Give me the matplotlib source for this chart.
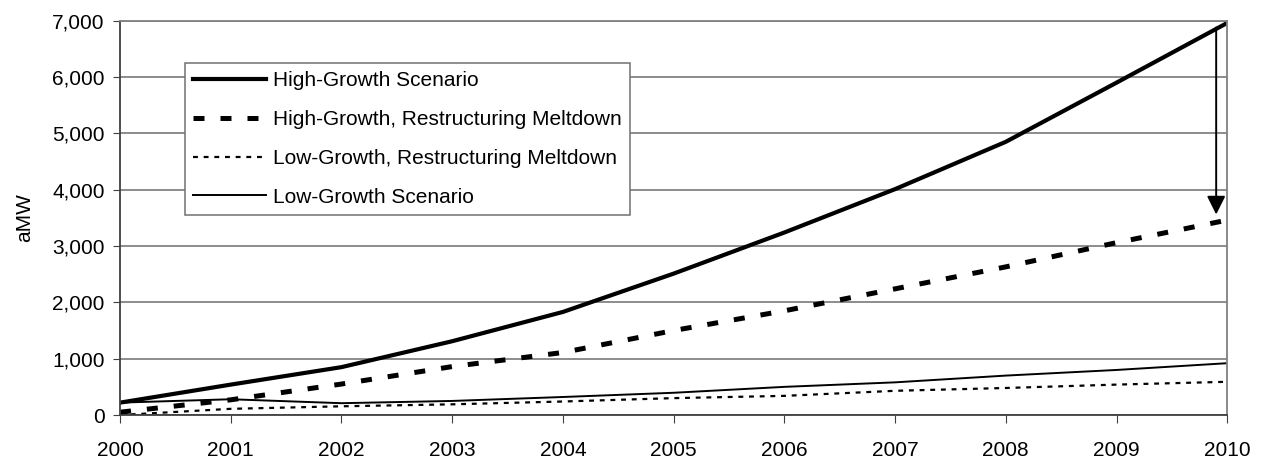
import matplotlib.pyplot as plt
from matplotlib.ticker import FuncFormatter

years = [2000, 2001, 2002, 2003, 2004, 2005, 2006, 2007, 2008, 2009, 2010]
high_growth = [220, 540, 850, 1310, 1830, 2510, 3240, 4010, 4850, 5900, 6960]
high_meltdown = [50, 270, 550, 860, 1110, 1500, 1850, 2240, 2630, 3060, 3460]
low_meltdown = [0, 110, 155, 190, 240, 300, 340, 430, 480, 540, 590]
low_growth = [220, 280, 210, 250, 320, 395, 500, 580, 700, 800, 920]

labels = [
    "High-Growth Scenario",
    "High-Growth, Restructuring Meltdown",
    "Low-Growth, Restructuring Meltdown",
    "Low-Growth Scenario",
]

plt.rcParams.update({
    "font.size": 15,
    "font.family": ["Liberation Sans", "DejaVu Sans"],
})

fig = plt.figure(figsize=(12.69, 4.67), dpi=100)
ax = fig.add_axes([0.0946, 0.1113, 0.8725, 0.8444])

ax.plot(years, high_growth, color="black", lw=3.0, label=labels[0],
        solid_joinstyle="round")
ax.plot(years, high_meltdown, color="black", lw=3.6, linestyle=(0, (2.2, 3.2)),
        dash_capstyle="butt", label=labels[1])
ax.plot(years, low_meltdown, color="black", lw=1.6, linestyle=(0, (2.2, 2.6)),
        dash_capstyle="butt", label=labels[2])
ax.plot(years, low_growth, color="black", lw=1.4, label=labels[3])

# arrow showing the drop in 2010
ax.annotate("", xy=(2009.9, 3560), xytext=(2009.9, 6880),
            arrowprops=dict(arrowstyle="-|>", color="black", lw=1.4,
                            mutation_scale=28, shrinkA=0, shrinkB=0))

ax.set_xlim(2000, 2010)
ax.set_ylim(0, 7000)
ax.set_xticks(years)
ax.set_yticks(range(0, 7001, 1000))
ax.yaxis.set_major_formatter(FuncFormatter(lambda v, p: f"{int(v):,}"))
ax.set_ylabel("aMW", labelpad=13)

ax.grid(axis="y", color="#6e6e6e", lw=1.1)
ax.set_axisbelow(True)
for s in ax.spines.values():
    s.set_color("#808080")
    s.set_linewidth(1.3)
ax.spines["left"].set_color("#404040")
ax.spines["bottom"].set_color("#404040")
ax.tick_params(axis="x", direction="out", length=6, color="#404040", pad=13)
ax.tick_params(axis="y", direction="out", length=5, color="#404040", pad=6)

leg = ax.legend(loc="upper left", bbox_to_anchor=(0.0587, 0.893), borderaxespad=0,
                handlelength=3.5, handletextpad=0.3, labelspacing=0.95,
                borderpad=0.4, fancybox=False, framealpha=1)
leg.get_frame().set_edgecolor("#707070")
leg.get_frame().set_linewidth(1.1)

plt.savefig("out.png", dpi=100)
plt.close()
